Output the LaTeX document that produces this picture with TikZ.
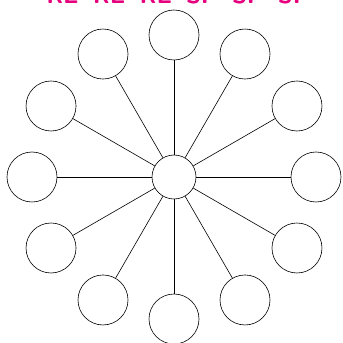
\documentclass[tikz,border=0pt]{standalone}
\usepackage{tikz}
\usepackage{xcolor}
\usetikzlibrary{positioning,calc}
\definecolor{mypink}{RGB}{230,0,126}
\tikzset{
    leaf/.style={
        circle,
        draw=black,
        fill=white,
        semithick,
        minimum size=50pt,
        inner sep=0pt
    },
    hub/.style={
        circle,
        draw=black,
        fill=white,
        semithick,
        minimum size=44pt,
        inner sep=0pt
    },
    spoke/.style={semithick,black},
    banner/.style={
        text=mypink,
        font=\fontsize{24}{26}\selectfont\sffamily\bfseries,
        anchor=base,
        inner sep=0pt
    }
}
\begin{document}
\begin{tikzpicture}[x=1pt,y=1pt]
\useasboundingbox (0,0) rectangle (343,343);

% hub in the middle
\node[hub] (c) at (174,166) {};

% twelve circles round it
\foreach \i in {0,...,11} {
    \node[leaf] (n\i) at ($(174,166)+({90-30*\i}:142)$) {};
    \draw[spoke] (c) -- (n\i);
}

% title, cut at the top edge
\node[banner] (title) at (178,339.5) {RE\hspace{0.6em}RE\hspace{0.6em}RE\hspace{0.6em}SP\hspace{0.6em}SP\hspace{0.6em}SP};

\end{tikzpicture}
\end{document}
